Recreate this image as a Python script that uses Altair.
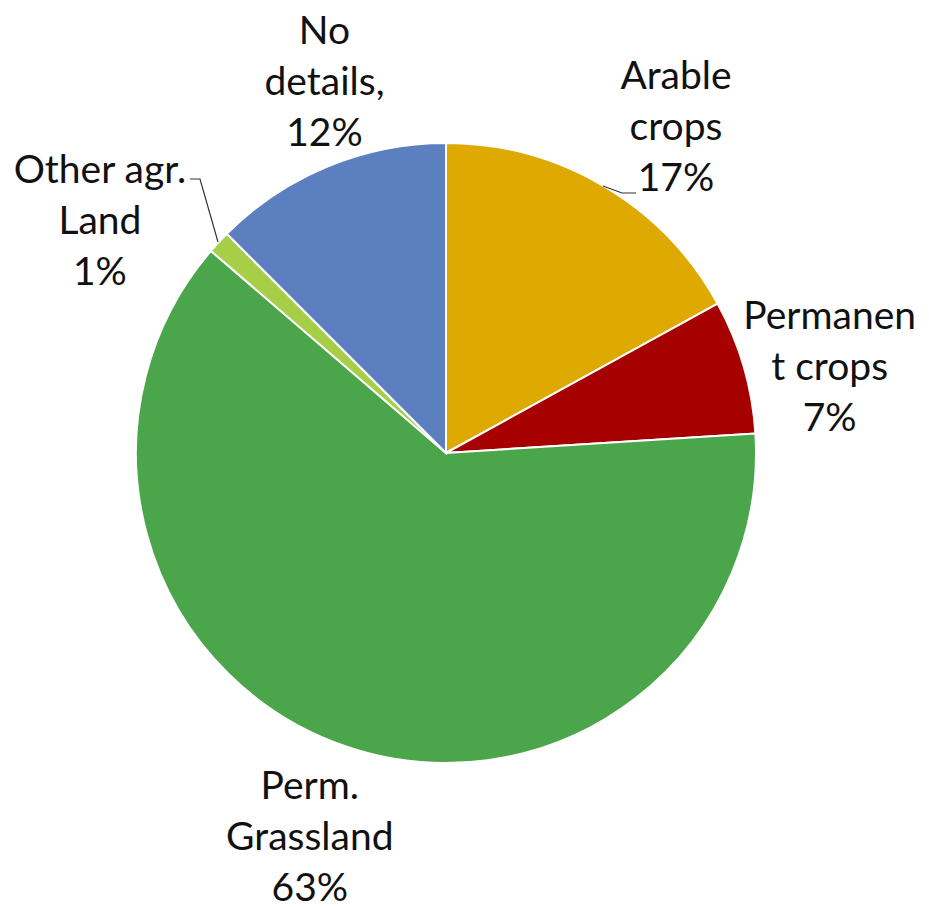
import math
import altair as alt
import pandas as pd

# ---- data ----
categories = ["Arable crops", "Permanent crops", "Perm. Grassland", "Other agr. Land", "No details"]
shares = [17.0, 7.0, 62.3, 1.2, 12.5]
label_texts = ["Arable\ncrops\n17%", "Permanen\nt crops\n7%", "Perm.\nGrassland\n63%",
               "Other agr.\nLand\n1%", "No\ndetails,\n12%"]
colors = ["#DEA900", "#A60000", "#4BA54B", "#A6CE46", "#5B7FBF"]

# ---- layout (pixels in plot area) ----
CX, CY, R = 438, 445, 310
LINE_H = 51
# label placement: angle (deg, clockwise from 12 o'clock) and distance from centre
label_angle = [35.3, 77.5, 199.5, 303.7, 341.8]
label_radius = [398, 393, 408, 416, 389]
# leader lines (annotation paths)
leaders = {
    "Arable crops": [(595, 178), (614, 185), (628, 185)],
    "Other agr. Land": [(182, 171), (192, 171), (210, 234)],
}

df = pd.DataFrame({"cat": categories, "share": shares, "idx": range(len(categories))})

lab = pd.DataFrame({
    "cat": categories,
    "text": label_texts,
    "lx": [CX + r * math.sin(math.radians(a)) for a, r in zip(label_angle, label_radius)],
    "ly": [CY - r * math.cos(math.radians(a)) - LINE_H for a, r in zip(label_angle, label_radius)],
})

rows = []
for k, pts in leaders.items():
    for i, (x, y) in enumerate(pts):
        rows.append({"cat": k, "o": i, "x": x, "y": y})
lead = pd.DataFrame(rows)

pie = alt.Chart(df).mark_arc(outerRadius=R, stroke="white", strokeWidth=2).encode(
    theta=alt.Theta("share:Q", stack=True),
    color=alt.Color("cat:N", scale=alt.Scale(domain=categories, range=colors), legend=None),
    order=alt.Order("idx:Q", sort="ascending"),
    x=alt.value(CX),
    y=alt.value(CY),
)

labels = alt.Chart(lab).mark_text(
    lineBreak="\n", font="Lato", fontSize=39, color="#111111",
    align="center", baseline="middle", lineHeight=LINE_H,
).encode(
    x=alt.X("lx:Q", scale=None, axis=None),
    y=alt.Y("ly:Q", scale=None, axis=None),
    text="text:N",
)

lines = alt.Chart(lead).mark_line(color="#333333", strokeWidth=1.2).encode(
    x=alt.X("x:Q", scale=None, axis=None),
    y=alt.Y("y:Q", scale=None, axis=None),
    detail="cat:N",
    order="o:Q",
)

chart = alt.layer(pie, lines, labels).properties(
    width=913, height=891, padding=0, background="white"
).configure_view(stroke=None)

chart.save("out.html", embed_options={"renderer": "svg", "actions": False})
